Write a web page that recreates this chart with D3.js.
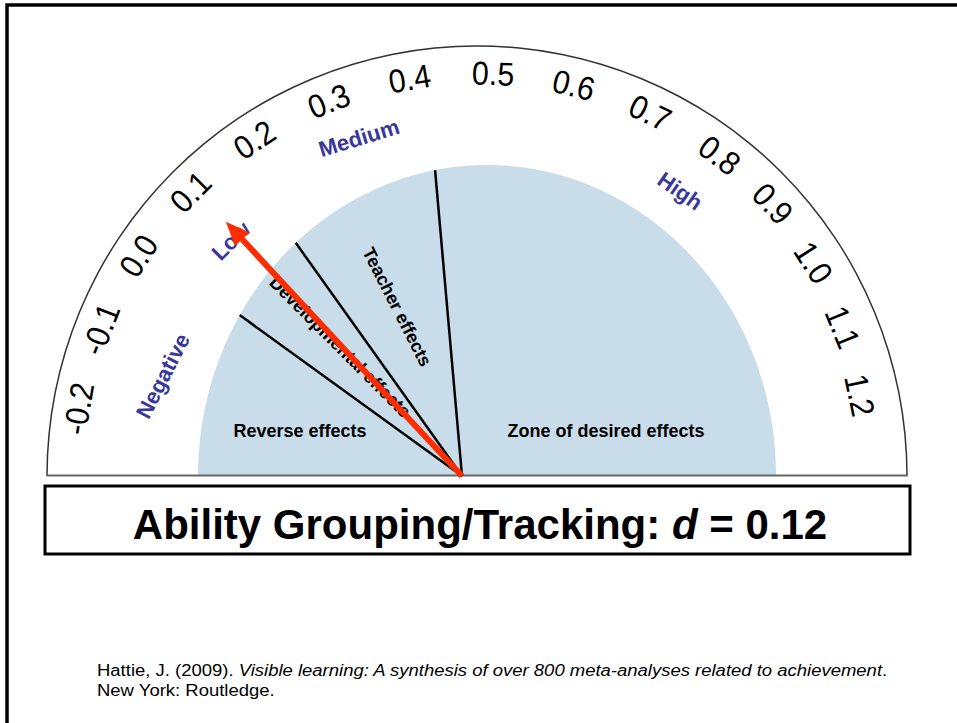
<!DOCTYPE html>
<html>
<head>
<meta charset="utf-8">
<script src="https://cdn.jsdelivr.net/npm/d3@7/dist/d3.min.js"></script>
<style>
  html, body { margin: 0; padding: 0; background: #fff; }
  svg { display: block; font-family: "Liberation Sans", Arial, Helvetica, sans-serif; }
</style>
</head>
<body>
<svg id="chart" width="957" height="723"></svg>
<script>
// ---------------- DATA ----------------
const tickValues = [-0.2, -0.1, 0.0, 0.1, 0.2, 0.3, 0.4, 0.5, 0.6, 0.7, 0.8, 0.9, 1.0, 1.1, 1.2];
const tickLabels = ["-0.2", "-0.1", "0.0", "0.1", "0.2", "0.3", "0.4", "0.5", "0.6", "0.7", "0.8", "0.9", "1.0", "1.1", "1.2"];
const zoneBounds = [0.0, 0.15, 0.4];
const zoneNames = ["Reverse effects", "Developmental effects", "Teacher effects", "Zone of desired effects"];
const rangeNames = ["Negative", "Low", "Medium", "High"];
const effectName = "Ability Grouping/Tracking";
const effectSize = 0.12;
const citationAuthor = "Hattie, J. (2009). ";
const citationTitle = "Visible learning: A synthesis of over 800 meta-analyses related to achievement";
const citationPublisher = "New York: Routledge.";

// ---------------- LAYOUT ----------------
const svg = d3.select("#chart");
const gx = 477, gy = 476;            // gauge centre (outer arc)
const outerR = 430;
const ex = 487, erx = 289, ery = 311; // blue zone ellipse
const ox = 462;                       // needle / divider origin
const needleLen = 347;

// value -> angle in degrees measured from the left horizontal (hand-drawn dial, slightly uneven)
const angle = d3.scaleLinear().domain([-0.2, 0.2, 0.5, 0.8, 1.2]).range([9.6, 56.5, 92.3, 127.1, 168.1]);
const labelRadius = d3.scaleLinear().domain([-0.2, 0.9, 1.2]).range([404, 402, 391]);
const rad = d => d * Math.PI / 180;

// page frame
svg.append("path")
  .attr("d", `M7,760 L7,5 L970,5`)
  .attr("fill", "none").attr("stroke", "#000").attr("stroke-width", 3.5);

// blue half ellipse
const ell = d3.range(0, 181, 1).map(a => [ex - erx * Math.cos(rad(a)), gy - ery * Math.sin(rad(a))]);
svg.append("path")
  .attr("d", d3.line()(ell) + "Z")
  .attr("fill", "#c8dcea");

// outer arc
svg.append("path")
  .attr("d", d3.arc()({innerRadius: outerR - 0.75, outerRadius: outerR + 0.75, startAngle: -Math.PI / 2, endAngle: Math.PI / 2}))
  .attr("transform", `translate(${gx},${gy})`)
  .attr("fill", "#333");
svg.append("line")
  .attr("x1", gx - outerR - 0.5).attr("x2", gx + outerR + 0.5)
  .attr("y1", gy - 0.5).attr("y2", gy - 0.5)
  .attr("stroke", "#666").attr("stroke-width", 2);

// zone dividers
function ellipsePoint(v) {
  const t = rad(angle(v));
  const c = Math.cos(t), s = Math.sin(t);
  const r = 1 / Math.sqrt((c / erx) ** 2 + (s / ery) ** 2);
  return [ex - r * c, gy - r * s];
}
svg.selectAll("line.div").data(zoneBounds).enter().append("line")
  .attr("class", "div")
  .attr("x1", ox).attr("y1", gy)
  .attr("x2", d => ellipsePoint(d)[0]).attr("y2", d => ellipsePoint(d)[1])
  .attr("stroke", "#000").attr("stroke-width", 2.5);

// zone labels
const zonePos = [
  {x: 300, y: 431, rot: 0},
  {x: 340, y: 347, rot: 45},
  {x: 397, y: 307, rot: 63},
  {x: 606, y: 431, rot: 0}
];
svg.selectAll("text.zone").data(zoneNames).enter().append("text")
  .attr("class", "zone")
  .attr("transform", (d, i) => `translate(${zonePos[i].x},${zonePos[i].y}) rotate(${zonePos[i].rot})`)
  .attr("text-anchor", "middle").attr("dominant-baseline", "central")
  .attr("font-size", 18).attr("font-weight", "bold").attr("fill", "#000")
  .text(d => d);

// tick labels
svg.selectAll("text.tick").data(tickValues).enter().append("text")
  .attr("class", "tick")
  .attr("transform", d => {
    const a = angle(d), r = labelRadius(d);
    const x = gx - r * Math.cos(rad(a));
    const y = gy - r * Math.sin(rad(a));
    return `translate(${x},${y}) rotate(${a - 90}) scale(0.92,1)`;
  })
  .attr("text-anchor", "middle").attr("dominant-baseline", "central")
  .attr("font-size", 33).attr("fill", "#000")
  .text((d, i) => tickLabels[i]);

// range labels
const rangePos = [
  {x: 163, y: 376, rot: -63},
  {x: 231, y: 241, rot: -45},
  {x: 359, y: 138, rot: -17},
  {x: 680, y: 191, rot: 35}
];
svg.selectAll("text.range").data(rangeNames).enter().append("text")
  .attr("class", "range")
  .attr("transform", (d, i) => `translate(${rangePos[i].x},${rangePos[i].y}) rotate(${rangePos[i].rot})`)
  .attr("text-anchor", "middle").attr("dominant-baseline", "central")
  .attr("font-size", 22).attr("font-weight", "bold").attr("fill", "#38389c")
  .text(d => d);

// needle
const na = rad(angle(effectSize));
const ux = -Math.cos(na), uy = -Math.sin(na);
const tipX = ox + needleLen * ux, tipY = gy + needleLen * uy;
const headL = 24, headW = 10;
const bx = tipX - headL * ux, by = tipY - headL * uy;
svg.append("line")
  .attr("x1", ox).attr("y1", gy).attr("x2", bx).attr("y2", by)
  .attr("stroke", "#fe2d00").attr("stroke-width", 6);
svg.append("path")
  .attr("d", d3.line()([[tipX, tipY], [bx - headW * uy, by + headW * ux], [bx + headW * uy, by - headW * ux]]) + "Z")
  .attr("fill", "#fe2d00");

// title box
svg.append("rect")
  .attr("x", 45).attr("y", 486).attr("width", 865).attr("height", 68)
  .attr("fill", "#fff").attr("stroke", "#000").attr("stroke-width", 3);
const title = svg.append("text")
  .attr("x", 480).attr("y", 539)
  .attr("text-anchor", "middle")
  .attr("font-size", 42).attr("font-weight", "bold").attr("fill", "#000");
title.append("tspan").text(effectName + ": ");
title.append("tspan").attr("font-style", "italic").text("d");
title.append("tspan").text(" = " + effectSize.toFixed(2));

// citation
const cit = svg.append("text").attr("x", 97).attr("y", 676).attr("font-size", 18.5).attr("fill", "#000")
  .attr("transform", "translate(97,676) scale(1,0.9) translate(-97,-676)");
cit.append("tspan").text(citationAuthor);
cit.append("tspan").attr("font-style", "italic").text(citationTitle);
cit.append("tspan").text(".");
svg.append("text").attr("x", 97).attr("y", 696).attr("font-size", 18.5).attr("fill", "#000")
  .attr("transform", "translate(97,696) scale(1,0.9) translate(-97,-696)")
  .text(citationPublisher);
</script>
</body>
</html>
